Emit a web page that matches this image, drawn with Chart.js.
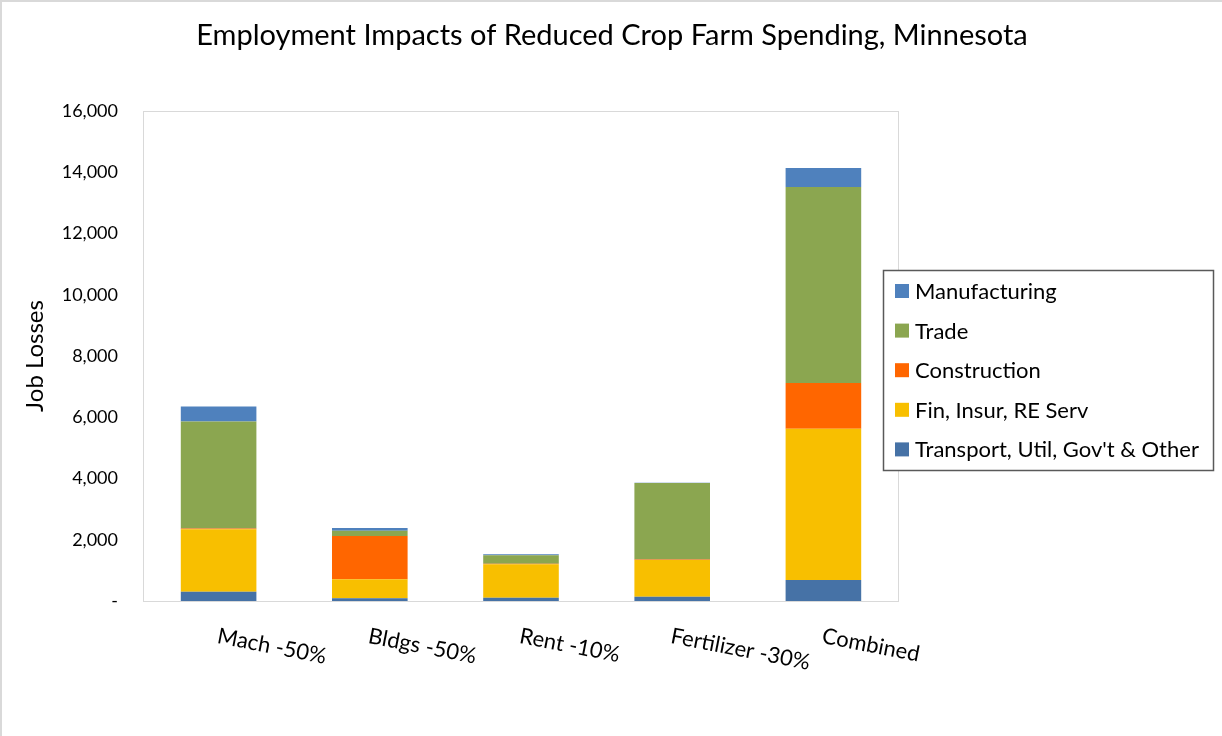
<!DOCTYPE html>
<html>
<head>
<meta charset="utf-8">
<title>Employment Impacts of Reduced Crop Farm Spending, Minnesota</title>
<script src="https://cdn.jsdelivr.net/npm/chart.js@4/dist/chart.umd.min.js"></script>
<style>
  html, body { margin: 0; padding: 0; background: #fff; }
  #wrap { width: 1222px; height: 736px; }
</style>
</head>
<body>
<div id="wrap"><canvas id="jobsChart" width="1222" height="736"></canvas></div>
<script>
var FONT = 'Lato, "Open Sans", sans-serif';

var scenarios = ['Mach -50%', 'Bldgs -50%', 'Rent -10%', 'Fertilizer -30%', 'Combined'];

// job losses by sector, one value per scenario
var transport    = [304, 88, 109, 142, 686];
var finInsur     = [2037, 620, 1090, 1198, 4941];
var construction = [25, 1414, 20, 16, 1491];
var trade        = [3494, 174, 274, 2493, 6400];
var manufacturing = [490, 88, 33, 15, 620];

var yTicks = [0, 2000, 4000, 6000, 8000, 10000, 12000, 14000, 16000];

document.addEventListener('DOMContentLoaded', function () {

    var ctx = document.getElementById('jobsChart').getContext('2d');

    // title, legend box, rotated category labels and frame lines
    var decorations = {
        id: 'decorations',
        afterDraw: function (chart) {
            var c = chart.ctx;
            var area = chart.chartArea;
            c.save();

            // outer frame (top and left only)
            c.strokeStyle = '#d9d9d9';
            c.lineWidth = 2;
            c.beginPath();
            c.moveTo(1, 736);
            c.lineTo(1, 1);
            c.lineTo(1222, 1);
            c.stroke();

            // plot area border
            c.strokeStyle = '#d9d9d9';
            c.lineWidth = 1;
            c.strokeRect(area.left + 0.5, area.top + 0.5, area.right - area.left - 1, area.bottom - area.top);

            // title
            c.fillStyle = '#000';
            c.font = '29px ' + FONT;
            c.textAlign = 'center';
            c.textBaseline = 'middle';
            c.fillText('Employment Impacts of Reduced Crop Farm Spending, Minnesota', 612, 36);

            // category labels, slanted down to the right
            var xScale = chart.scales.x;
            c.font = '22px ' + FONT;
            c.textAlign = 'left';
            c.textBaseline = 'top';
            chart.data.labels.forEach(function (lbl, i) {
                var x = xScale.getPixelForTick(i);
                c.save();
                c.translate(x + 1, area.bottom + 24);
                c.rotate(11 * Math.PI / 180);
                c.fillText(lbl, 0, 0);
                c.restore();
            });

            // legend (top series first)
            var lx = 883, ly = 270, lw = 330, lh = 200;
            c.fillStyle = '#fff';
            c.fillRect(lx, ly, lw, lh);
            c.strokeStyle = '#595959';
            c.lineWidth = 1.5;
            c.strokeRect(lx + 0.5, ly + 0.5, lw, lh);
            c.font = '22px ' + FONT;
            c.textBaseline = 'middle';
            var sets = chart.data.datasets.slice().reverse();
            sets.forEach(function (ds, i) {
                var cy = 291 + i * 39.6;
                c.fillStyle = ds.backgroundColor;
                c.fillRect(lx + 12, cy - 7, 14, 14);
                c.fillStyle = '#000';
                c.fillText(ds.label, lx + 32, cy + 1);
            });

            c.restore();
        }
    };

    new Chart(ctx, {
        type: 'bar',
        data: {
            labels: scenarios,
            datasets: [
                { label: "Transport, Util, Gov't & Other", data: transport, backgroundColor: '#4672a6' },
                { label: 'Fin, Insur, RE Serv', data: finInsur, backgroundColor: '#f8bf00' },
                { label: 'Construction', data: construction, backgroundColor: '#ff6600' },
                { label: 'Trade', data: trade, backgroundColor: '#8ba650' },
                { label: 'Manufacturing', data: manufacturing, backgroundColor: '#4f81bd' }
            ]
        },
        options: {
            responsive: false,
            animation: false,
            layout: {
                padding: { left: 0, right: 323, top: 111, bottom: 135 }
            },
            datasets: {
                bar: { barPercentage: 1, categoryPercentage: 0.5 }
            },
            scales: {
                x: {
                    stacked: true,
                    grid: { display: false },
                    border: { display: false },
                    ticks: { display: false },
                    afterFit: function (scale) { scale.height = 0; }
                },
                y: {
                    stacked: true,
                    min: 0,
                    max: 16000,
                    grid: { display: false, drawTicks: false },
                    border: { display: false },
                    afterBuildTicks: function (scale) {
                        scale.ticks = yTicks.map(function (v) { return { value: v }; });
                    },
                    ticks: {
                        padding: 25,
                        color: '#000',
                        font: { family: FONT, size: 18 },
                        callback: function (value) {
                            return value === 0 ? '-' : value.toLocaleString('en-US');
                        }
                    },
                    title: {
                        display: true,
                        text: 'Job Losses',
                        color: '#000',
                        font: { family: FONT, size: 24 },
                        padding: { top: 21, bottom: 0 }
                    },
                    afterFit: function (scale) { scale.width = 143; }
                }
            },
            plugins: {
                legend: { display: false },
                tooltip: { enabled: false }
            }
        },
        plugins: [decorations]
    });

});
</script>
</body>
</html>
